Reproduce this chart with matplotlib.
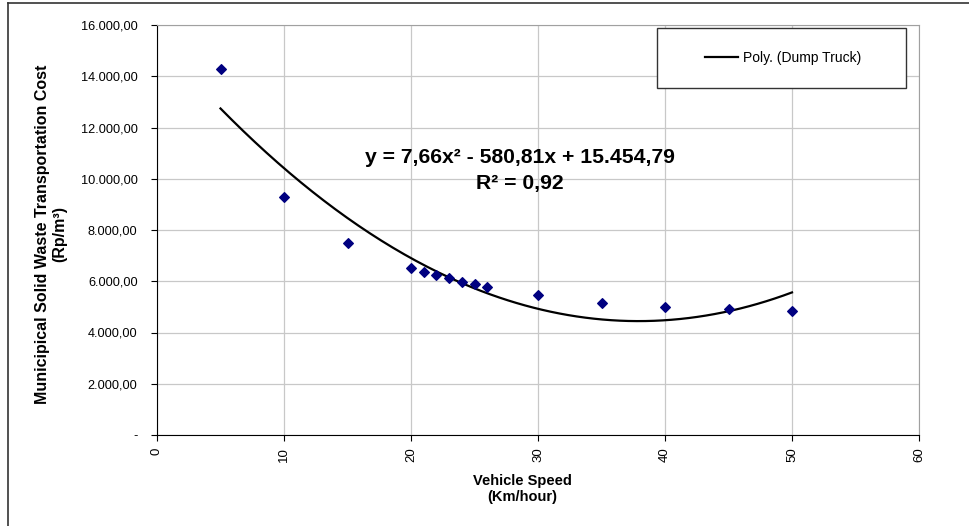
import matplotlib
matplotlib.use("Agg")
import matplotlib.pyplot as plt
from matplotlib.lines import Line2D
from matplotlib.patches import Rectangle
from matplotlib.ticker import FuncFormatter
import numpy as np

plt.rcParams["font.family"] = ["Liberation Sans", "DejaVu Sans"]

# vehicle speed (km/h) vs transport cost (Rp/m3), dump truck
speed = [5, 10, 15, 20, 21, 22, 23, 24, 25, 26, 30, 35, 40, 45, 50]
cost = [14270, 9290, 7490, 6510, 6360, 6240, 6120, 5990, 5880, 5790,
        5480, 5170, 5000, 4900, 4840]
# polynomial trend shown on the chart
coef = [7.66, -580.81, 15454.79]
eq_text = "y = 7,66x² - 580,81x + 15.454,79"
r2_text = "R² = 0,92"


def idr(v, pos):
    if v == 0:
        return "-"
    s = f"{v:,.2f}"
    return s.replace(",", "X").replace(".", ",").replace("X", ".")


fig = plt.figure(figsize=(9.69, 5.26), dpi=100)
ax = fig.add_axes([157 / 969, 1 - 435 / 526, (919 - 157) / 969, (435 - 25) / 526])

xs = np.linspace(min(speed), max(speed), 200)
line, = ax.plot(xs, np.polyval(coef, xs), color="black", lw=1.6,
                label="Poly. (Dump Truck)", zorder=3)
ax.scatter(speed, cost, marker="D", s=24, color="#000080", zorder=4)

ax.set_xlim(0, 60); ax.set_ylim(0, 16000)
ax.set_xticks(range(0, 61, 10)); ax.set_yticks(range(0, 16001, 2000))
ax.yaxis.set_major_formatter(FuncFormatter(idr))
ax.tick_params(axis="x", labelrotation=90, labelsize=9.5, length=4, pad=5, direction="out")
ax.tick_params(axis="y", labelsize=9.2, length=4, pad=10, direction="out")
ax.grid(True, color="#c8c8c8", lw=0.9)
ax.set_axisbelow(True)
for s in ("top", "right"):
    ax.spines[s].set_color("#a0a0a0")
for s in ("left", "bottom"):
    ax.spines[s].set_color("black")

ax.set_xlabel("Vehicle Speed\n(Km/hour)", fontsize=10.5, fontweight="bold")
ax.xaxis.set_label_coords(0.479, -0.094)
ax.set_ylabel("Municipical Solid Waste Transportation Cost\n(Rp/m³)",
              fontsize=11.5, fontweight="bold", linespacing=1.15)
ax.yaxis.set_label_coords(-0.118, 0.49)

ax.text(28.6, 10810, eq_text, ha="center", va="center", fontsize=15.2, fontweight="bold")
ax.text(28.6, 9830, r2_text, ha="center", va="center", fontsize=15.2, fontweight="bold")

# legend box
ax.add_patch(Rectangle((0.656, 0.846), 0.327, 0.147, transform=ax.transAxes,
                       facecolor="white", edgecolor="#333333", lw=1.0, zorder=5))
ax.legend(handles=[line], loc="center", bbox_to_anchor=(0.8215, 0.92),
          fontsize=10, frameon=False, handlelength=2.4, handletextpad=0.3).set_zorder(6)

# outer chart frame (only left and top edges visible)
fig.add_artist(Line2D([8 / 969, 8 / 969], [0, 1 - 3 / 526], transform=fig.transFigure,
                      color="#333333", lw=1.2))
fig.add_artist(Line2D([8 / 969, 1], [1 - 3 / 526, 1 - 3 / 526], transform=fig.transFigure,
                      color="#333333", lw=1.2))

fig.savefig("out.png", dpi=100)
